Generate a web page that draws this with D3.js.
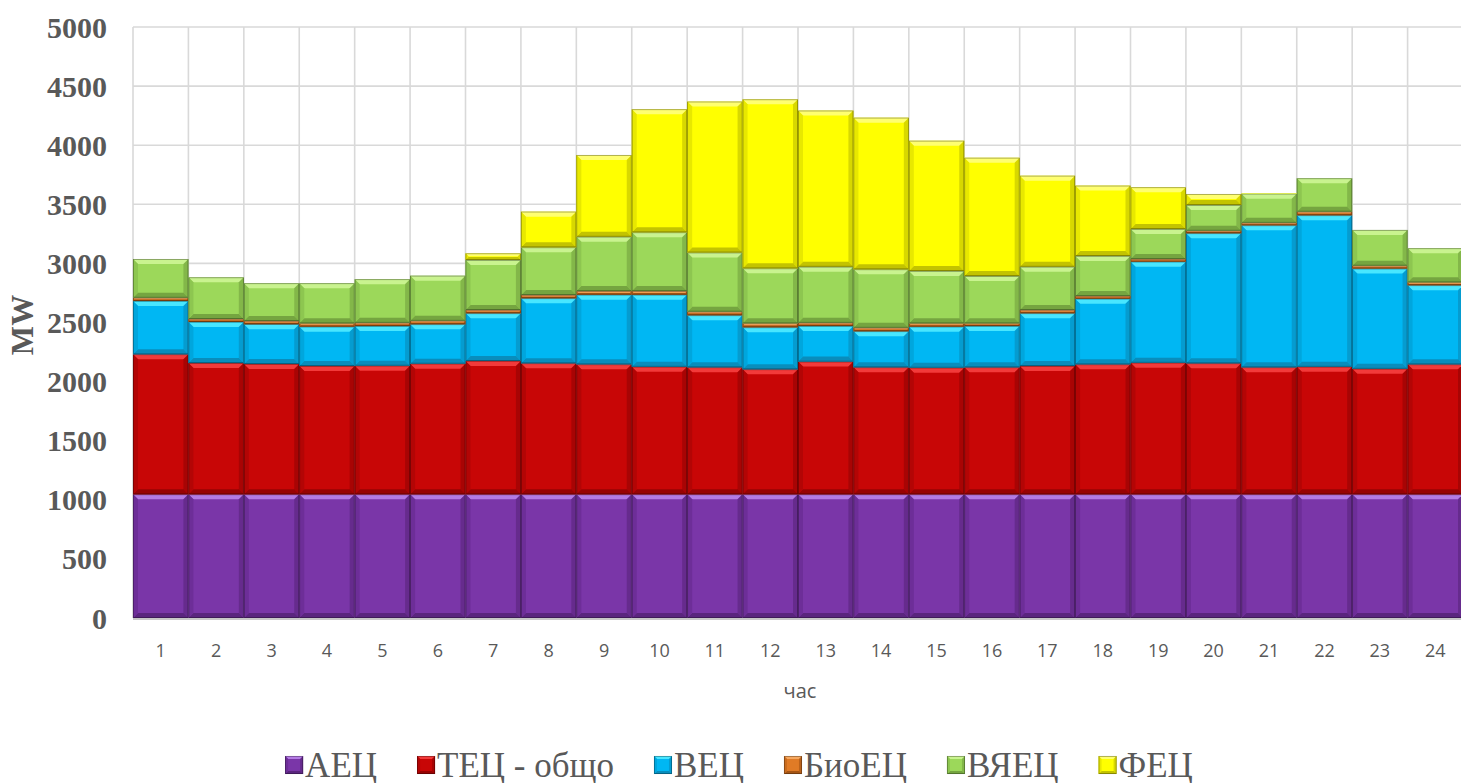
<!DOCTYPE html>
<html>
<head>
<meta charset="utf-8">
<script src="https://cdn.jsdelivr.net/npm/d3@7/dist/d3.min.js"></script>
<style>
  html, body { margin: 0; padding: 0; background: #ffffff; }
  svg { display: block; }
</style>
</head>
<body>
<svg id="chart" width="1461" height="783"></svg>
<script>
// Hourly generation mix, MW
const hours = ["1","2","3","4","5","6","7","8","9","10","11","12",
               "13","14","15","16","17","18","19","20","21","22","23","24"];

const seriesNames = ["АЕЦ", "ТЕЦ - общо", "ВЕЦ", "БиоЕЦ", "ВЯЕЦ", "ФЕЦ"];

const aec   = [1046,1046,1046,1046,1046,1046,1046,1046,1046,1046,1046,1046,
               1046,1046,1046,1046,1046,1046,1046,1046,1046,1046,1046,1046];
const tec   = [1185,1111,1103,1086,1089,1106,1129,1109,1100,1080,1075,1058,
               1123,1075,1072,1075,1086,1100,1114,1109,1075,1080,1063,1100];
const vec   = [451,348,337,333,335,333,403,550,589,609,440,355,
               301,305,347,349,446,555,855,1100,1201,1281,847,669];
const bio   = [28,25,27,28,28,30,28,28,31,31,31,34,
               28,30,28,23,28,23,22,22,22,31,25,25];
const vyec  = [327,352,319,339,368,381,423,403,460,497,500,465,
               474,494,443,400,366,339,254,217,246,282,302,288];
const fec   = [0,0,0,0,0,0,56,302,691,1041,1277,1430,
               1321,1283,1102,1001,770,595,353,93,4,0,0,0];

const yTicks = [0,500,1000,1500,2000,2500,3000,3500,4000,4500,5000];

// colours per series: base, highlight (top bevel), shade (bottom/right bevel)
const palette = [
  { base: "#7a36a8", light: "#b47be4", dark: "#552277", side: "#6c2d96" },
  { base: "#c80606", light: "#f23a3a", dark: "#8e0303", side: "#b00505" },
  { base: "#00b7f3", light: "#48e6ff", dark: "#0a86b2", side: "#00a4da" },
  { base: "#e07b26", light: "#f6a860", dark: "#9a4f12", side: "#c86a1e" },
  { base: "#9cd85a", light: "#c9f38f", dark: "#6f9c3c", side: "#8cc44f" },
  { base: "#ffff00", light: "#ffff70", dark: "#b8b800", side: "#e6e600" }
];

const W = 1461, H = 783;
const plot = { left: 133, right: 1463, top: 27, bottom: 618 };

const svg = d3.select("#chart");

const x = d3.scaleBand().domain(hours).range([plot.left, plot.right]).padding(0);
const y = d3.scaleLinear().domain([0, 5000]).range([plot.bottom, plot.top]);

const rows = hours.map((h, i) => ({
  hour: h,
  s0: aec[i], s1: tec[i], s2: vec[i], s3: bio[i], s4: vyec[i], s5: fec[i]
}));
const keys = ["s0","s1","s2","s3","s4","s5"];
const stacked = d3.stack().keys(keys)(rows);

// grid
const grid = svg.append("g").attr("class", "grid");
grid.selectAll("line.h").data(yTicks.filter(t => t > 0)).join("line")
  .attr("class", "h")
  .attr("x1", plot.left).attr("x2", W)
  .attr("y1", d => y(d)).attr("y2", d => y(d))
  .attr("stroke", "#d9d9d9").attr("stroke-width", 1.6);
const vLines = hours.map(h => x(h));
grid.selectAll("line.v").data(vLines).join("line")
  .attr("class", "v")
  .attr("x1", d => d).attr("x2", d => d)
  .attr("y1", plot.top).attr("y2", plot.bottom)
  .attr("stroke", "#d9d9d9").attr("stroke-width", 1.6);

// bevelled block
function bevel(g, x0, y0, x1, y1, col, maxB) {
  const w = x1 - x0, h = y1 - y0;
  if (h <= 0 || w <= 0) return;
  const b = Math.max(0, Math.min(maxB, h / 2.2, w / 2.2));
  const blk = g.append("g");
  blk.append("rect").attr("x", x0).attr("y", y0).attr("width", w).attr("height", h)
    .attr("fill", col.base);
  if (b >= 0.8) {
    const poly = (pts, fill, op) => blk.append("polygon")
      .attr("points", pts.map(p => p.join(",")).join(" "))
      .attr("fill", fill).attr("opacity", op);
    poly([[x0,y0],[x1,y0],[x1-b,y0+b],[x0+b,y0+b]], col.light, 1);
    poly([[x0,y1],[x1,y1],[x1-b,y1-b],[x0+b,y1-b]], col.dark, 0.85);
    poly([[x0,y0],[x0+b,y0+b],[x0+b,y1-b],[x0,y1]], col.side, 0.9);
    poly([[x1,y0],[x1-b,y0+b],[x1-b,y1-b],[x1,y1]], col.dark, 0.55);
  }
  blk.append("rect").attr("x", x0 + 0.4).attr("y", y0 + 0.4)
    .attr("width", Math.max(0, w - 0.8)).attr("height", Math.max(0, h - 0.8))
    .attr("fill", "none").attr("stroke", "#000").attr("stroke-opacity", 0.35)
    .attr("stroke-width", 0.9);
}

// bars
const bars = svg.append("g").attr("class", "bars");
stacked.forEach((layer, si) => {
  const lg = bars.append("g").attr("class", "series-" + si);
  layer.forEach(d => {
    const x0 = x(d.data.hour), x1 = x0 + x.bandwidth();
    const yTop = y(d[1]), yBot = y(d[0]);
    bevel(lg, x0, yTop, x1, yBot, palette[si], 5);
  });
});

// x axis line
svg.append("line")
  .attr("x1", plot.left).attr("x2", W)
  .attr("y1", plot.bottom + 1).attr("y2", plot.bottom + 1)
  .attr("stroke", "#c8c8c8").attr("stroke-width", 2);

// y tick labels
svg.append("g").selectAll("text").data(yTicks).join("text")
  .attr("x", 107).attr("y", d => y(d))
  .attr("text-anchor", "end").attr("dominant-baseline", "central")
  .attr("font-family", "'Liberation Serif', 'Times New Roman', serif")
  .attr("font-weight", "bold").attr("font-size", 30)
  .attr("fill", "#595959")
  .text(d => d);

// y axis title
svg.append("text")
  .attr("transform", "translate(22,325) rotate(-90)")
  .attr("text-anchor", "middle").attr("dominant-baseline", "central")
  .attr("font-family", "'Liberation Serif', 'Times New Roman', serif")
  .attr("font-weight", "bold").attr("font-size", 31)
  .attr("fill", "#595959")
  .text("MW");

// x tick labels
svg.append("g").selectAll("text").data(hours).join("text")
  .attr("x", d => x(d) + x.bandwidth() / 2).attr("y", 650)
  .attr("text-anchor", "middle").attr("dominant-baseline", "central")
  .attr("font-family", "'Open Sans', 'Noto Sans', sans-serif")
  .attr("font-size", 18).attr("fill", "#595959")
  .text(d => d);

// x axis title
svg.append("text")
  .attr("x", 800).attr("y", 690)
  .attr("text-anchor", "middle").attr("dominant-baseline", "central")
  .attr("font-family", "'Open Sans', 'Noto Sans', sans-serif")
  .attr("font-size", 20).attr("fill", "#595959")
  .text("час");

// legend
const legend = svg.append("g").attr("class", "legend");
const legendY = 765, mk = 18, gapTxt = 2, gapItem = 40;
let cursor = 0;
const items = seriesNames.map((name, i) => {
  const g = legend.append("g");
  const t = g.append("text")
    .attr("x", mk + gapTxt).attr("y", 0)
    .attr("dominant-baseline", "central")
    .attr("font-family", "'Liberation Serif', 'Times New Roman', serif")
    .attr("font-size", 35).attr("fill", "#595959")
    .text(name);
  const tw = t.node().getComputedTextLength();
  bevel(g, 0, -mk / 2, mk, mk / 2, palette[i], 3);
  const item = { g, start: cursor };
  cursor += mk + gapTxt + tw + gapItem;
  return item;
});
const totalW = cursor - gapItem;
const lx0 = 739 - totalW / 2;
items.forEach(it => it.g.attr("transform", `translate(${lx0 + it.start},${legendY})`));
</script>
</body>
</html>
